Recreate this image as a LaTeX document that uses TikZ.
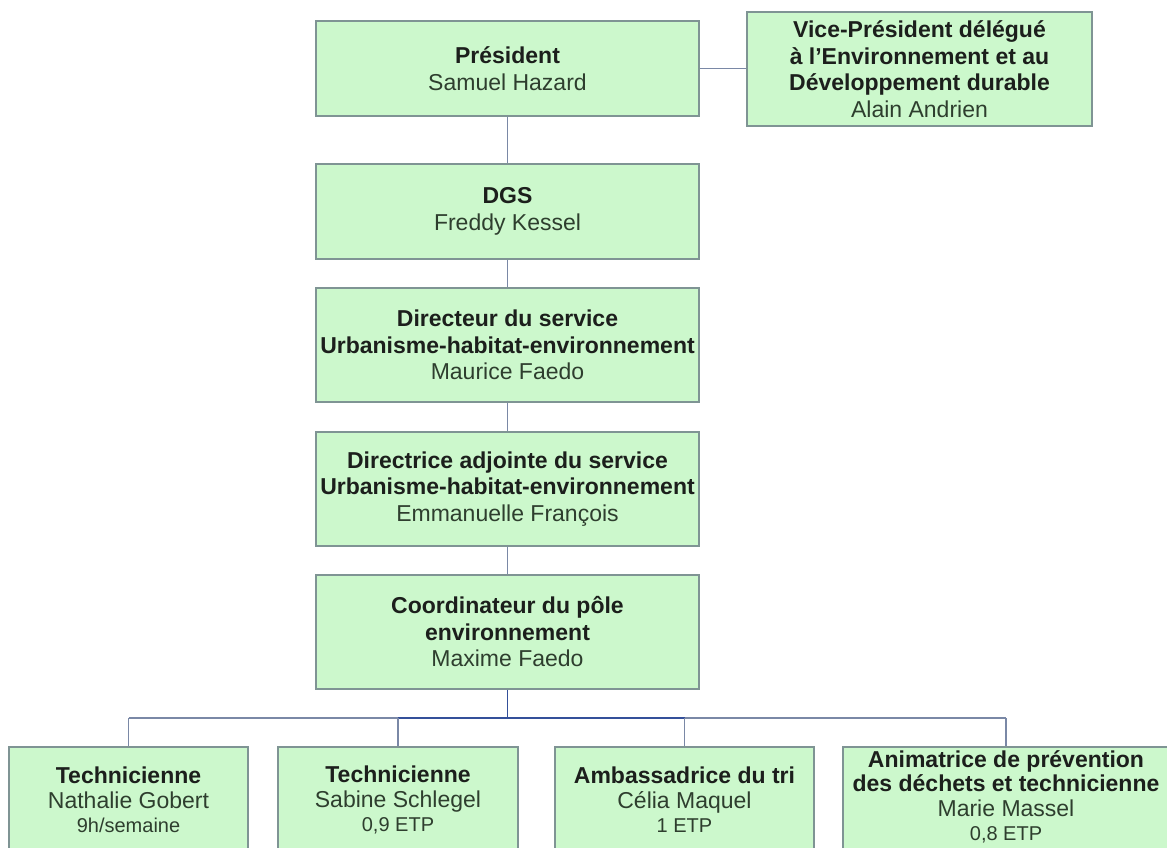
\documentclass[tikz,border=0pt]{standalone}
\usepackage{fontspec}
\setmainfont{Liberation Sans}
\definecolor{boxfill}{HTML}{CCF8CC}
\definecolor{boxborder}{HTML}{7F9494}
\definecolor{conncol}{HTML}{7A88A6}
\definecolor{buscol}{HTML}{34509A}
\definecolor{titlecol}{HTML}{1C1F1C}
\definecolor{namecol}{HTML}{2E3E2E}
\newcommand{\ttlx}[1]{{\bfseries\color{titlecol}#1}}
\newcommand{\nmx}[1]{{\color{namecol}#1}}
\newcommand{\smx}[1]{{\color{namecol}\fontsize{20}{24}\selectfont #1}}
\begin{document}
\begin{tikzpicture}[x=1pt,y=-1pt,
  orgbox/.style={draw=boxborder, fill=boxfill, line width=1.1pt, inner sep=0pt,
    align=center, font=\fontsize{23}{26.5}\selectfont},
  topbox/.style={orgbox, minimum width=383pt, minimum height=114pt},
  lowbox/.style={orgbox, minimum height=106pt, font=\fontsize{23}{24.5}\selectfont},
  conn/.style={draw=conncol, line width=1.1pt},
  busline/.style={draw=buscol, line width=1.3pt}]
\useasboundingbox (0,0) rectangle (1167,848);
\clip (0,0) rectangle (1167,848);
\fill[white] (0,0) rectangle (1167,848);

\node[topbox, minimum height=95pt] (pres) at (507.5,68.5) {\ttlx{Président}\\\nmx{Samuel Hazard}};
\node[orgbox, minimum width=345pt, minimum height=114pt] (vp) at (919.5,69) {\ttlx{Vice-Président délégué}\\\ttlx{à l'Environnement et au}\\\ttlx{Développement durable}\\\nmx{Alain Andrien}};
\node[topbox, minimum height=95pt] (dgs) at (507.5,211.5) {\ttlx{DGS}\\\nmx{Freddy Kessel}};
\node[topbox] (dir) at (507.5,345) {\ttlx{Directeur du service}\\\ttlx{Urbanisme-habitat-environnement}\\\nmx{Maurice Faedo}};
\node[topbox] (adj) at (507.5,489) {\ttlx{Directrice adjointe du service}\\\ttlx{Urbanisme-habitat-environnement}\\\nmx{Emmanuelle François}};
\node[topbox] (coord) at (507.5,632) {\ttlx{Coordinateur du pôle}\\\ttlx{environnement}\\\nmx{Maxime Faedo}};

\node[lowbox, minimum width=239pt] (b1) at (128.5,800) {\ttlx{Technicienne}\\\nmx{Nathalie Gobert}\\\smx{9h/semaine}};
\node[lowbox, minimum width=240pt] (b2) at (398,800) {\ttlx{Technicienne}\\\nmx{Sabine Schlegel}\\\smx{0,9 ETP}};
\node[lowbox, minimum width=259pt] (b3) at (684.5,800) {\ttlx{Ambassadrice du tri}\\\nmx{Célia Maquel}\\\smx{1 ETP}};
\node[lowbox, minimum width=326pt] (b4) at (1006,800) {\ttlx{Animatrice de prévention}\\\ttlx{des déchets et technicienne}\\\nmx{Marie Massel}\\\smx{0,8 ETP}\rule[-9pt]{0pt}{9pt}};

\coordinate (bus) at (507.5,718);

\draw[conn] (pres.east) -- (pres.east -| vp.west);
\draw[conn] (pres.south) -- (dgs.north);
\draw[conn] (dgs.south) -- (dir.north);
\draw[conn] (dir.south) -- (adj.north);
\draw[conn] (adj.south) -- (coord.north);
\draw[busline] (coord.south) -- (bus);
\draw[conn] (b1.north |- bus) -- (b4.north |- bus);
\draw[busline] (b2.north |- bus) -- (b3.north |- bus);
\draw[conn] (b1.north |- bus) -- (b1.north);
\draw[conn] (b2.north |- bus) -- (b2.north);
\draw[conn] (b3.north |- bus) -- (b3.north);
\draw[conn] (b4.north |- bus) -- (b4.north);
\end{tikzpicture}
\end{document}
